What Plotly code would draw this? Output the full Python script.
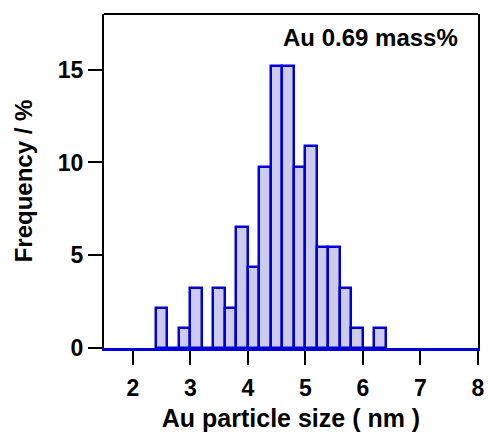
import plotly.graph_objects as go

# Bin centers (nm), bin width 0.2 nm
bin_centers = [2.5, 2.7, 2.9, 3.1, 3.3, 3.5, 3.7, 3.9, 4.1, 4.3,
               4.5, 4.7, 4.9, 5.1, 5.3, 5.5, 5.7, 5.9, 6.1, 6.3]
frequency = [2.17, 0, 1.09, 3.26, 0, 3.26, 2.17, 6.52, 4.35, 9.78,
             15.22, 15.22, 9.78, 10.87, 5.43, 5.43, 3.26, 1.09, 0, 1.09]
bin_width = 0.2

x_ticks = [2, 3, 4, 5, 6, 7, 8]
y_ticks = [0, 5, 10, 15]

BLUE = "#0000dc"
FONT = "Liberation Sans"

fig = go.Figure()
fig.add_trace(go.Bar(
    x=bin_centers,
    y=frequency,
    width=bin_width,
    marker=dict(
        color="#d4d4ea",
        line=dict(color=BLUE, width=2.5),
        pattern=dict(shape=".", fgcolor="#7070c8", bgcolor="#e6e6f3",
                     size=2, solidity=0.5),
    ),
    showlegend=False,
))

fig.update_layout(
    width=488, height=437,
    margin=dict(l=104, r=10, t=14, b=89),
    paper_bgcolor="white", plot_bgcolor="white",
    font=dict(family=FONT, size=23, color="black"),
    bargap=0,
    xaxis=dict(
        range=[1.5, 8], tickvals=x_ticks, ticktext=[str(v) for v in x_ticks],
        showgrid=False, zeroline=False, automargin=False,
        showline=True, linecolor=BLUE, linewidth=2.5, mirror=False,
        ticks="outside", ticklen=14, tickwidth=2, tickcolor="black",
        ticklabelstandoff=4,
        tickfont=dict(family=FONT, size=23, color="black", weight="bold"),
        title=dict(text="<b>Au particle size ( nm )</b>",
                   font=dict(family=FONT, size=25, color="black"), standoff=10),
    ),
    yaxis=dict(
        range=[0, 18], tickvals=y_ticks, ticktext=[str(v) for v in y_ticks],
        showgrid=False, zeroline=False, automargin=False,
        showline=True, linecolor="black", linewidth=2, mirror=True,
        ticks="outside", ticklen=14, tickwidth=2, tickcolor="black",
        tickfont=dict(family=FONT, size=23, color="black", weight="bold"),
        title=dict(text="<b>Frequency / %</b>",
                   font=dict(family=FONT, size=24, color="black"), standoff=18),
    ),
    shapes=[dict(type="line", xref="paper", yref="paper", x0=0, x1=1, y0=1, y1=1,
                 line=dict(color="black", width=2))],
    annotations=[dict(text="<b>Au 0.69 mass%</b>", xref="paper", yref="paper",
                      x=0.952, y=0.93, xanchor="right", yanchor="middle",
                      showarrow=False,
                      font=dict(family=FONT, size=24, color="black"))],
)

fig.write_html("out.html")
